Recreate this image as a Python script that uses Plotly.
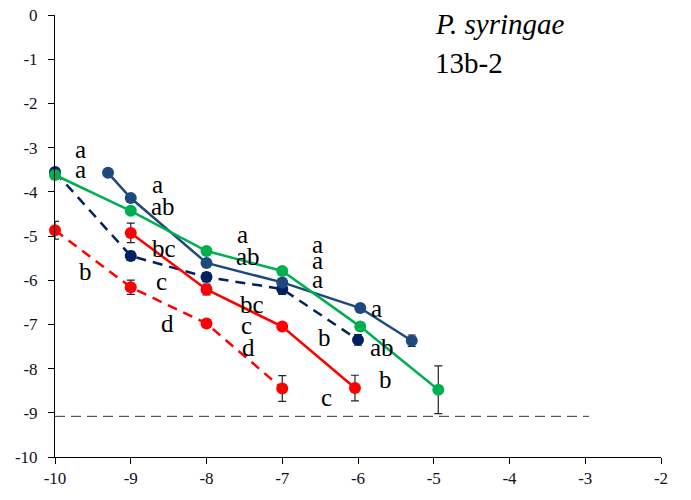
import plotly.graph_objects as go

# ---- data ----
blue_dash_x = [-10, -9, -8, -7, -6]
blue_dash_y = [-3.55, -5.45, -5.93, -6.2, -7.35]
blue_dash_err = [0.05, 0.1, 0.1, 0.12, 0.12]

blue_solid_x = [-9.3, -9, -8, -7, -5.97, -5.29]
blue_solid_y = [-3.57, -4.14, -5.61, -6.05, -6.63, -7.37]
blue_solid_err = [0.05, 0.05, 0.05, 0.05, 0.05, 0.13]

red_dash_x = [-10, -9, -8, -7]
red_dash_y = [-4.87, -6.16, -6.98, -8.45]
red_dash_err = [0.2, 0.16, 0.08, 0.29]

red_solid_x = [-9, -8, -7, -6.04]
red_solid_y = [-4.93, -6.21, -7.05, -8.44]
red_solid_err = [0.22, 0.12, 0.05, 0.29]

green_x = [-10, -9, -8, -7, -5.97, -4.94]
green_y = [-3.62, -4.43, -5.34, -5.79, -7.05, -8.48]
green_err = [0.05, 0.05, 0.05, 0.05, 0.05, 0.54]

limit_x = [-10, -2.95]
limit_y = [-9.08, -9.08]

x_ticks = [-10, -9, -8, -7, -6, -5, -4, -3, -2]
x_tick_labels = ["-10", "-9", "-8", "-7", "-6", "-5", "-4", "-3", "-2"]
y_ticks = [0, -1, -2, -3, -4, -5, -6, -7, -8, -9, -10]
y_tick_labels = ["0", "-1", "-2", "-3", "-4", "-5", "-6", "-7", "-8", "-9", "-10"]

letters = ["a", "a", "b", "a", "ab", "bc", "c", "d", "a", "ab", "bc", "c", "d",
           "a", "a", "a", "a", "b", "ab", "b", "c"]
letters_x = [-9.66, -9.66, -9.6, -8.65, -8.57, -8.56, -8.59, -8.52, -7.53, -7.45,
             -7.4, -7.47, -7.45, -6.53, -6.53, -6.53, -5.75, -6.44, -5.68, -5.64, -6.41]
letters_y = [-3.04, -3.49, -5.81, -3.83, -4.34, -5.29, -6.03, -6.99, -4.96, -5.47,
             -6.56, -7.02, -7.53, -5.19, -5.55, -5.98, -6.64, -7.29, -7.53, -8.24, -8.65]

title_line1 = "<i>P. syringae</i>"
title_line2 = "13b-2"

NAVY = "#1F497D"
DNAVY = "#002060"
RED = "#FF0000"
GREEN = "#00B050"


def series(x, y, err, color, dash):
    return go.Scatter(
        x=x, y=y, mode="lines+markers",
        line=dict(color=color, width=2.5, dash=dash),
        marker=dict(color=color, size=12),
        error_y=dict(type="data", array=err, visible=True, color="#222222",
                     thickness=1.2, width=4),
        cliponaxis=False, showlegend=False, hoverinfo="skip",
    )


fig = go.Figure()
fig.add_trace(go.Scatter(x=limit_x, y=limit_y, mode="lines",
                         line=dict(color="#333333", width=1, dash="10px,6px"),
                         showlegend=False, hoverinfo="skip"))
fig.add_trace(series(blue_dash_x, blue_dash_y, blue_dash_err, DNAVY, "10px,7px"))
fig.add_trace(series(red_dash_x, red_dash_y, red_dash_err, RED, "10px,7px"))
fig.add_trace(series(blue_solid_x, blue_solid_y, blue_solid_err, NAVY, "solid"))
fig.add_trace(series(red_solid_x, red_solid_y, red_solid_err, RED, "solid"))
fig.add_trace(series(green_x, green_y, green_err, GREEN, "solid"))

for t, x, y in zip(letters, letters_x, letters_y):
    fig.add_annotation(x=x, y=y, text=t, showarrow=False,
                       font=dict(family="Liberation Serif", size=25, color="black"),
                       xanchor="center", yanchor="middle", borderpad=0)

fig.add_annotation(x=-5.01, y=-0.2, text=title_line1, showarrow=False,
                   font=dict(family="Liberation Serif", size=29, color="black"),
                   xanchor="left", yanchor="middle")
fig.add_annotation(x=-5.01, y=-1.09, text=title_line2, showarrow=False,
                   font=dict(family="Liberation Serif", size=29, color="black"),
                   xanchor="left", yanchor="middle")

axis_common = dict(showgrid=False, zeroline=False, showline=True, linecolor="black",
                   linewidth=1, ticks="outside", ticklen=6, tickcolor="black",
                   tickwidth=1, automargin=False, ticklabeloverflow="allow",
                   tickfont=dict(family="Liberation Serif", size=17, color="#111122"))

fig.update_xaxes(range=[-10, -2], tickvals=x_ticks, ticktext=x_tick_labels, **axis_common)
fig.update_yaxes(range=[-10, 0], tickvals=y_ticks, ticktext=y_tick_labels,
                 ticklabelstandoff=7, **axis_common)

fig.update_layout(
    width=683, height=492,
    margin=dict(l=47, r=30, t=7, b=43),
    paper_bgcolor="white", plot_bgcolor="white",
    showlegend=False,
)

fig.write_html("out.html")
